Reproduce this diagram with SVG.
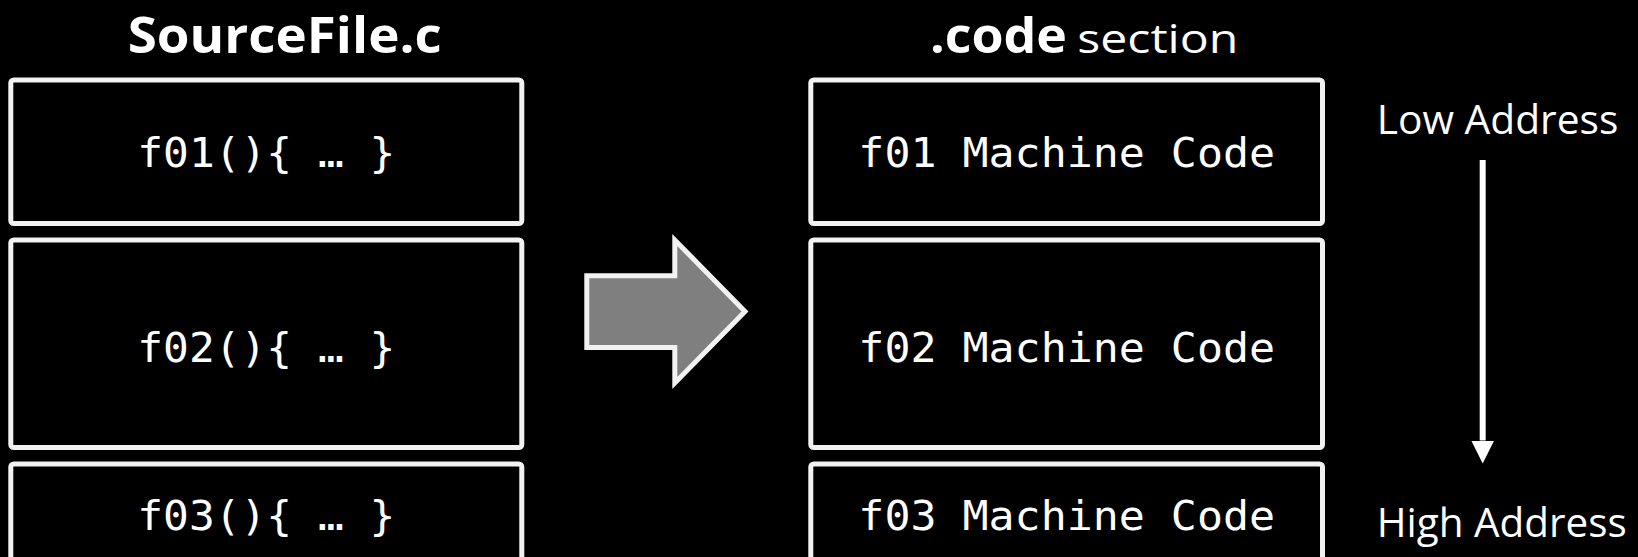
<svg xmlns="http://www.w3.org/2000/svg" width="1638" height="557" viewBox="0 0 1638 557">
  <defs>
    <style>
      .box { fill: #000; stroke: #f2f2f2; stroke-width: 5; }
      .code { font-family: "DejaVu Sans Mono", "Liberation Mono", monospace; font-size: 40px; fill: #fff; text-anchor: middle; }
      .title { font-family: "Open Sans", "Liberation Sans", sans-serif; fill: #fff; }
      .label { font-family: "Open Sans", "Liberation Sans", sans-serif; font-size: 40px; fill: #fff; }
      .flow { fill: #7f7f7f; stroke: #f2f2f2; stroke-width: 5; stroke-linejoin: miter; }
      .addr { stroke: #fff; stroke-width: 6; fill: none; }
    </style>
    <marker id="down-head" markerUnits="userSpaceOnUse" markerWidth="23" markerHeight="23" viewBox="0 0 23 23" refX="0" refY="11.5" orient="auto">
      <path d="M0,0 L23,11.5 L0,23 Z" fill="#fff"/>
    </marker>
  </defs>

  <rect width="1638" height="557" fill="#000"/>

  <!-- column headings -->
  <text id="src-title" class="title" x="284.7" y="52.7" font-size="50" font-weight="bold" text-anchor="middle" textLength="314" lengthAdjust="spacingAndGlyphs">SourceFile.c</text>
  <text id="sec-title" class="title" y="52.7"><tspan x="930" font-size="49" font-weight="bold" textLength="137" lengthAdjust="spacingAndGlyphs">.code</tspan><tspan x="1077.3" font-size="40" textLength="161" lengthAdjust="spacingAndGlyphs">section</tspan></text>

  <!-- source functions -->
  <g id="src-f01">
    <rect class="box" x="10.8" y="80" width="511" height="143.5" rx="3"/>
    <text class="code" x="266.3" y="166.7" textLength="258" lengthAdjust="spacingAndGlyphs">f01(){ … }</text>
  </g>
  <g id="src-f02">
    <rect class="box" x="10.8" y="240" width="511" height="207.5" rx="3"/>
    <text class="code" x="266.3" y="361.7" textLength="258" lengthAdjust="spacingAndGlyphs">f02(){ … }</text>
  </g>
  <g id="src-f03">
    <rect class="box" x="10.8" y="464" width="511" height="130" rx="3"/>
    <text class="code" x="266.3" y="530" textLength="258" lengthAdjust="spacingAndGlyphs">f03(){ … }</text>
  </g>

  <!-- compiled machine code in the section -->
  <g id="code-f01">
    <rect class="box" x="810.8" y="80" width="511.7" height="143.5" rx="3"/>
    <text class="code" x="1066.7" y="166.7" textLength="416.7" lengthAdjust="spacingAndGlyphs">f01 Machine Code</text>
  </g>
  <g id="code-f02">
    <rect class="box" x="810.8" y="240" width="511.7" height="207.5" rx="3"/>
    <text class="code" x="1066.7" y="361.7" textLength="416.7" lengthAdjust="spacingAndGlyphs">f02 Machine Code</text>
  </g>
  <g id="code-f03">
    <rect class="box" x="810.8" y="464" width="511.7" height="130" rx="3"/>
    <text class="code" x="1066.7" y="530" textLength="416.7" lengthAdjust="spacingAndGlyphs">f03 Machine Code</text>
  </g>

  <!-- address labels -->
  <text id="low-addr" class="label" x="1376.7" y="134" textLength="241.7" lengthAdjust="spacingAndGlyphs">Low Address</text>
  <text id="high-addr" class="label" x="1376.7" y="536.7" textLength="250" lengthAdjust="spacingAndGlyphs">High Address</text>

  <!-- connectors -->
  <g id="connectors">
    <path id="compile-arrow" class="flow" d="M586.8,275.8 H674.8 V240 L745,311.6 L674.8,383 V347.5 H586.8 Z"/>
    <line id="address-order" class="addr" x1="1482.7" y1="160" x2="1482.7" y2="440.5" marker-end="url(#down-head)"/>
  </g>
</svg>
